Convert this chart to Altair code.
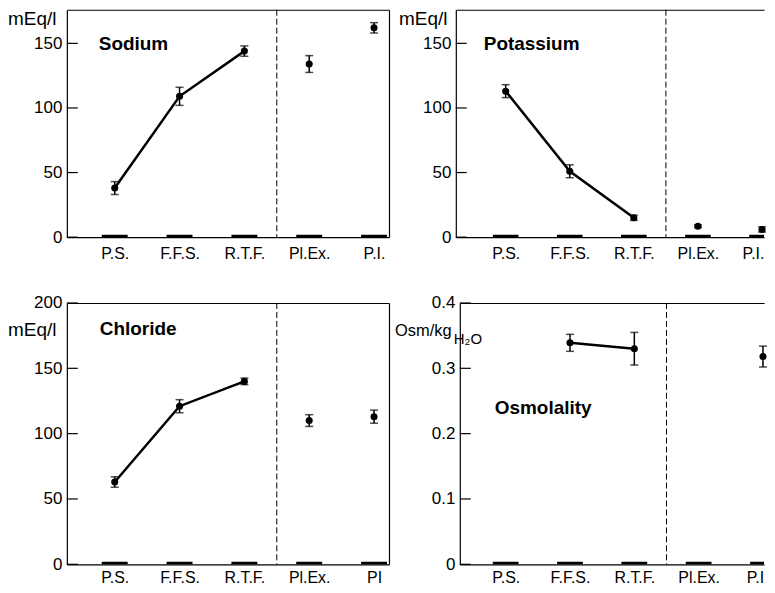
import altair as alt
import pandas as pd

FONT = "Liberation Sans"

# ---------------- data ----------------
cat_top = ["P.S.", "F.F.S.", "R.T.F.", "Pl.Ex.", "P.I."]
cat_chloride = ["P.S.", "F.F.S.", "R.T.F.", "Pl.Ex.", "PI"]
cat_osm = ["P.S.", "F.F.S.", "R.T.F.", "Pl.Ex.", "P.I"]
connected = [True, True, True, False, False]

sodium_mean = [38, 109, 144, 134, 162]
sodium_err = [5, 7, 4, 6.5, 4]
potassium_mean = [113, 51, 15, 8.5, 6]
potassium_err = [5, 5, 2, 1, 2]
chloride_mean = [63, 121, 140, 110, 113]
chloride_err = [4, 5, 2.5, 4.5, 5]
osm_mean = [None, 0.339, 0.330, None, 0.318]
osm_err = [None, 0.013, 0.025, None, 0.016]

ticks_top = [0, 50, 100, 150]
ticks_chloride = [0, 50, 100, 150, 200]
ticks_osm = [0, 0.1, 0.2, 0.3, 0.4]
divider = [2.5]


def panel(title, title_xy, units, means, errs, labels, ydomain, yticks,
          width, height, xdomain, right_frame, xlab_pad, last_offset=0,
          ylabel_expr=None):
    n = len(labels)
    df = pd.DataFrame({"idx": list(range(n)), "label": labels,
                       "mean": means, "err": errs, "connected": connected})
    meas = df.dropna(subset=["mean"]).copy()
    meas["lo"] = meas["mean"] - meas["err"]
    meas["hi"] = meas["mean"] + meas["err"]

    xs = alt.Scale(domain=xdomain, nice=False, zero=False)
    ys = alt.Scale(domain=ydomain, nice=False, zero=False)

    lab_arr = "[" + ",".join("'" + l + "'" for l in labels) + "]"
    bottom_kw = dict(orient="bottom", values=list(range(n)),
                     labelExpr=lab_arr + "[datum.value]",
                     ticks=False, grid=False, domainColor="black",
                     domainWidth=1.2, labelFont=FONT, labelFontSize=16,
                     labelColor="black", labelPadding=xlab_pad,
                     labelFlush=False, labelOverlap=False,
                     labelBaseline="top", title=None, minExtent=0)
    if last_offset:
        bottom_kw["labelOffset"] = {
            "condition": {"test": "datum.value == %d" % (n - 1),
                          "value": last_offset},
            "value": 0}
    bottom_axis = alt.Axis(**bottom_kw)
    top_axis = alt.Axis(orient="top", labels=False, ticks=False, grid=False,
                        domainColor="black", domainWidth=1.2, title=None,
                        minExtent=0)
    left_kw = dict(orient="left", values=yticks, ticks=False, grid=False,
                   domainColor="black", domainWidth=1.2, labelFont=FONT,
                   labelFontSize=17, labelColor="black", labelPadding=5,
                   labelFlush=False, labelOverlap=False, title=None,
                   minExtent=0)
    if ylabel_expr:
        left_kw["labelExpr"] = ylabel_expr
    left_axis = alt.Axis(**left_kw)
    right_axis = alt.Axis(orient="right", labels=False, ticks=False,
                          grid=False, domainColor="black", domainWidth=1.2,
                          title=None, minExtent=0)

    zero_bars = alt.Chart(df).transform_calculate(
        x0="datum.idx - 0.2", x1="datum.idx + 0.2", z="0"
    ).mark_rule(color="black", strokeWidth=5, clip=True).encode(
        x=alt.X("x0:Q", scale=xs, axis=None), x2="x1:Q",
        y=alt.Y("z:Q", scale=ys, axis=None))

    yt = alt.Chart(pd.DataFrame({"t": yticks})).mark_rule(
        color="black", strokeWidth=1.2).encode(
        y=alt.Y("t:Q", scale=ys, axis=None),
        x=alt.value(0), x2=alt.value(11))

    div = alt.Chart(pd.DataFrame({"d": divider})).mark_rule(
        color="black", strokeWidth=1, strokeDash=[6, 3]).encode(
        x=alt.X("d:Q", scale=xs, axis=None))

    base = alt.Chart(meas)
    ebar = base.mark_rule(color="black", strokeWidth=1.5).encode(
        x=alt.X("idx:Q", scale=xs, axis=None),
        y=alt.Y("lo:Q", scale=ys, axis=None), y2="hi:Q")
    caps = base.transform_fold(["lo", "hi"], as_=["k", "v"]).mark_tick(
        color="black", orient="horizontal", size=8, thickness=1.5).encode(
        x=alt.X("idx:Q", scale=xs, axis=None),
        y=alt.Y("v:Q", scale=ys, axis=None))
    line = base.transform_filter("datum.connected").mark_line(
        color="black", strokeWidth=2.5).encode(
        x=alt.X("idx:Q", scale=xs, axis=top_axis),
        y=alt.Y("mean:Q", scale=ys, axis=right_axis if right_frame else None))
    pts = base.mark_circle(color="black", size=50, opacity=1).encode(
        x=alt.X("idx:Q", scale=xs, axis=bottom_axis),
        y=alt.Y("mean:Q", scale=ys, axis=left_axis))

    ttl = alt.Chart(pd.DataFrame({"t": [title]})).mark_text(
        align="left", baseline="middle", font=FONT, fontSize=19,
        fontWeight="bold", color="black").encode(
        text="t:N", x=alt.value(title_xy[0]), y=alt.value(title_xy[1]))

    layers = [zero_bars, yt, div, ebar, caps, line, pts, ttl]
    for (txt, ux, uy, fs) in units:
        layers.append(alt.Chart(pd.DataFrame({"t": [txt]})).mark_text(
            align="left", baseline="middle", font=FONT, fontSize=fs,
            color="black").encode(text="t:N", x=alt.value(ux), y=alt.value(uy)))

    return alt.layer(*layers).resolve_axis(
        x="independent", y="independent"
    ).properties(width=width, height=height)


p1 = panel("Sodium", (32, 34), [("mEq/l", -59, 9, 19)],
           sodium_mean, sodium_err, cat_top, [0, 176], ticks_top,
           323, 228, [-0.7385, 4.2308], True, 8)
p2 = panel("Potassium", (28, 34), [("mEq/l", -57, 9, 19)],
           potassium_mean, potassium_err, cat_top, [0, 176], ticks_top,
           309, 228, [-0.778, 4.031], False, 8, last_offset=-9)
p3 = panel("Chloride", (33, 26), [("mEq/l", -59, 27, 19)],
           chloride_mean, chloride_err, cat_chloride, [0, 200], ticks_chloride,
           323, 262, [-0.7385, 4.2308], True, 5)
p4 = panel("Osmolality", (35, 105),
           [("Osm/kg", -65, 28, 16.5), ("H₂O", -6, 36, 15)],
           osm_mean, osm_err, cat_osm, [0, 0.4], ticks_osm,
           305, 262, [-0.713, 4.016], False, 5, last_offset=-8,
           ylabel_expr="datum.value == 0 ? '0' : format(datum.value, '.1f')")

top = alt.hconcat(p1, p2, spacing=67, bounds="flush")
bottom = alt.hconcat(p3, p4, spacing=71, bounds="flush")
chart = alt.vconcat(top, bottom, spacing=33).properties(
    padding=0, background="white"
).configure_view(stroke=None)

chart.save("out.html", embed_options={"renderer": "svg", "actions": False})
